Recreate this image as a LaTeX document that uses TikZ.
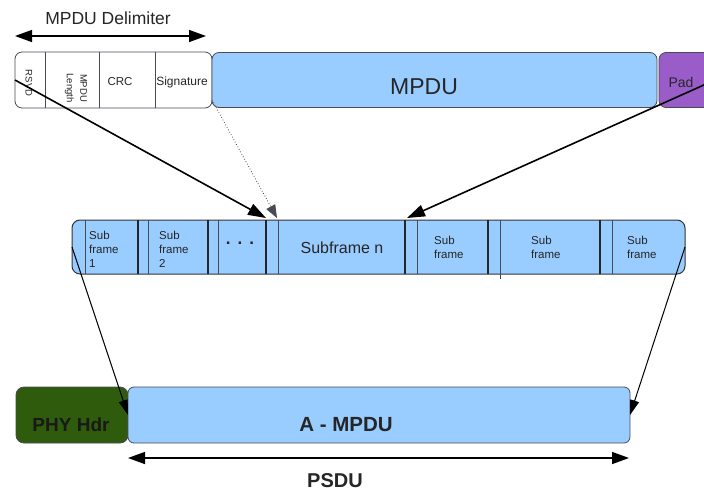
\documentclass[tikz,border=0pt]{standalone}
\usepackage{fontspec}
\setmainfont{Liberation Sans}
\usetikzlibrary{arrows.meta}
\definecolor{mpdublue}{HTML}{99CCFF}
\definecolor{hdrgreen}{HTML}{2F5C0C}
\definecolor{padpurple}{HTML}{9A5CC8}
\definecolor{edge}{HTML}{4A4A55}
\definecolor{ink}{HTML}{262626}
\newcommand{\fs}[1]{\fontsize{#1}{1.25\dimexpr#1pt\relax}\selectfont}

\begin{document}
\begin{tikzpicture}[x=1pt,y=-1pt,
  blk/.style={draw=edge, line width=0.8pt, rounded corners=7pt, inner sep=0pt, outer sep=0pt},
  lbl/.style={inner sep=0pt, text=ink},
  small/.style={inner sep=0pt, text=ink, align=left, font=\fontsize{11.5}{14}\selectfont},
  thickdiv/.style={line width=1.9pt, draw=black!85},
  thindiv/.style={line width=0.7pt, draw=edge},
  bigarrow/.style={line width=1.6pt, -{Triangle[length=18pt,width=12pt]}},
  thinarrow/.style={line width=1pt, -{Triangle[length=15pt,width=9pt]}},
  dotarrow/.style={line width=0.8pt, dotted, draw=edge, -{Triangle[length=13pt,width=10pt]}},
  span/.style={line width=1.5pt, {Triangle[length=17pt,width=12pt]}-{Triangle[length=17pt,width=12pt]}}
]
\useasboundingbox (0,0) rectangle (704,493);
\clip (0,0) rectangle (704,493);
\fill[white] (0,0) rectangle (704,493);

% ---- MPDU delimiter, MPDU and pad ----
\node[lbl, font=\fs{17.5}] (dlabel) at (108,18) {MPDU Delimiter};
\coordinate (dl) at (15,36);
\coordinate (dr) at (206,36);
\draw[span] (dl) -- (dr);

\node[blk, fill=white, minimum width=197pt, minimum height=56pt] (delim) at (113.5,80) {};
\foreach \x in {45,99,155} \draw[thindiv] (\x,52) -- (\x,108);
\node[lbl, rotate=-90, font=\fs{9.5}] (rsvd) at (29,83) {RSVD};
\node[lbl, rotate=-90, align=center, font=\fontsize{9.5}{13.5}\selectfont] (mlen) at (76,88) {MPDU\\Length};
\node[lbl, font=\fs{11.5}] (crc) at (120,82) {CRC};
\node[lbl, font=\fs{12}] (sig) at (182,82) {Signature};

\node[blk, fill=mpdublue, minimum width=445pt, minimum height=55pt] (mpdu) at (434.5,80) {};
\node[lbl, font=\fs{23}] (mpdulabel) at (424,87) {MPDU};

\node[blk, fill=padpurple, minimum width=56pt, minimum height=55pt] (pad) at (687,80) {};
\node[lbl, font=\fs{14}] (padlabel) at (681,82) {Pad};

% ---- aggregated subframes ----
\node[blk, draw=black!80, line width=1pt, fill=mpdublue, rounded corners=8pt,
      minimum width=613pt, minimum height=54pt] (bar) at (378.5,247) {};
\foreach \x in {138,208,266,405,488,600} \draw[thickdiv] (\x,220) -- (\x,274);
\foreach \x in {85,148,218,278,417,612} \draw[thindiv] (\x,220) -- (\x,274);
\draw[thindiv] (500,220) -- (500,279);

\node[small, anchor=north west] (sf1) at (89,231) {Sub\\frame\\1};
\node[small, anchor=north west] (sf2) at (159,231) {Sub\\frame\\2};
\node[lbl, font=\bfseries\fs{17}] (dots) at (240,243) {.\hspace{7pt}.\hspace{7pt}.};
\node[lbl, font=\fs{16}] (sfn) at (342,248) {Subframe n};
\node[small, anchor=north west] (sfa) at (434,236) {Sub\\frame};
\node[small, anchor=north west] (sfb) at (531,236) {Sub\\frame};
\node[small, anchor=north west] (sfc) at (627,236) {Sub\\frame};

% ---- PHY frame ----
\node[blk, fill=hdrgreen, rounded corners=8pt, minimum width=112pt, minimum height=56pt] (phy) at (72,415) {};
\node[lbl, text=black!90, font=\bfseries\fs{19}] (phylabel) at (71,425) {PHY Hdr};
\node[blk, fill=mpdublue, rounded corners=6pt, minimum width=502pt, minimum height=56pt] (ampdu) at (379,415) {};
\node[lbl, font=\bfseries\fs{20.5}] (ampdulabel) at (346,425) {A - MPDU};

\coordinate (pl) at (128,458);
\coordinate (pr) at (629,458);
\draw[span] (pl) -- (pr);
\node[lbl, font=\bfseries\fs{20}] (psdu) at (335,481) {PSDU};

% ---- mapping arrows ----
\coordinate (t1) at (266,218);
\coordinate (t2) at (277,218);
\coordinate (t3) at (407,218);
\coordinate (sigcorner) at (212,100);
\draw[bigarrow] (delim.west) -- (t1);
\draw[dotarrow] (sigcorner) -- (t2);
\draw[bigarrow] (pad.east) -- (t3);
\draw[thinarrow] (bar.west) -- (phy.east);
\draw[thinarrow] (bar.east) -- (ampdu.east);
\end{tikzpicture}
\end{document}
